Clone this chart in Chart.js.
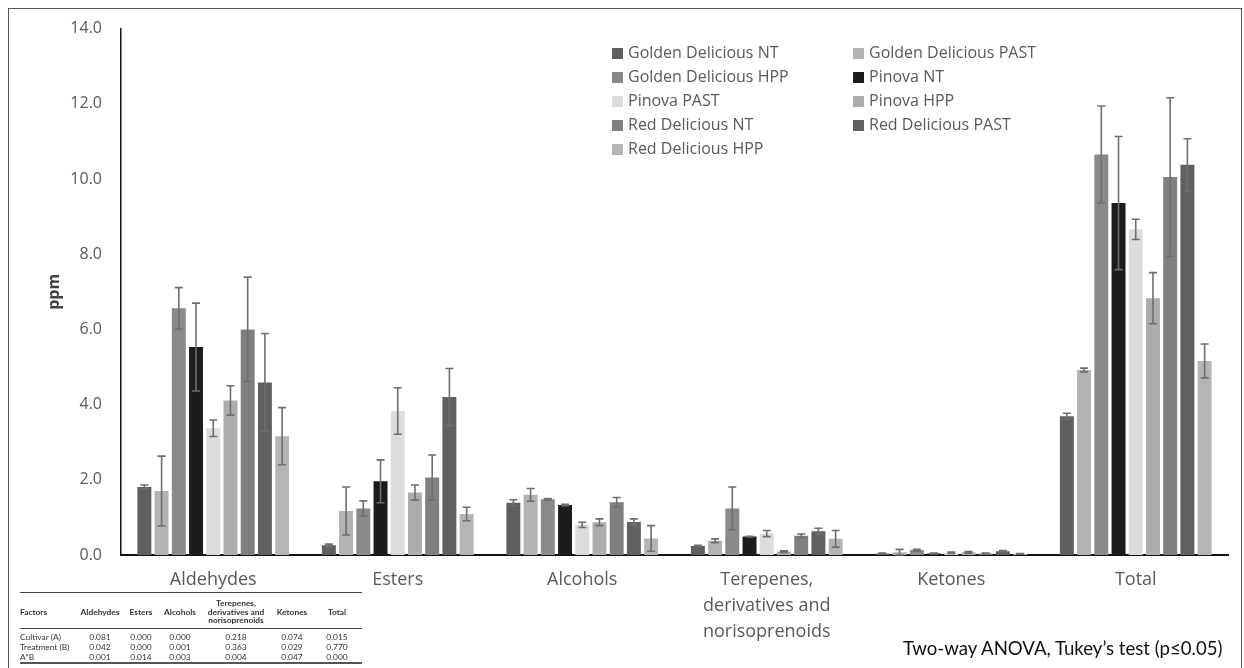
<!DOCTYPE html>
<html>
<head>
<meta charset="utf-8">
<script src="https://cdn.jsdelivr.net/npm/chart.js@4.4.1/dist/chart.umd.min.js"></script>
<style>
    html, body { margin: 0; padding: 0; background: #fff; }
    #wrap { position: relative; width: 1244px; height: 668px; overflow: hidden; }
    #frame { position: absolute; left: 8px; top: 8px; width: 1234px; height: 690px; border: 1.5px solid #555; box-sizing: border-box; }
    #chart { position: absolute; left: 0; top: 0; }
    .leg { position: absolute; font: 16px "Open Sans", sans-serif; color: #595959; white-space: nowrap; line-height: 20px; }
    .leg i { display: inline-block; width: 11px; height: 11px; margin-right: 5px; vertical-align: -1px; }
    #note { position: absolute; left: 903px; top: 637px; font: 18.6px Lato, sans-serif; color: #111; white-space: nowrap; }
    #anova { position: absolute; left: 20px; top: 592px; width: 342px; border-collapse: collapse; font: 8.4px Lato, sans-serif; color: #333; }
    #anova th { font-weight: bold; line-height: 8.7px; padding: 6px 0 3px; text-align: center; border-top: 1.2px solid #444; border-bottom: 1.2px solid #444; }
    #anova td { text-align: center; line-height: 10px; padding: 0; }
    #anova tr.first td { padding-top: 3px; }
    #anova th:first-child, #anova td:first-child { text-align: left; }
    #anova tr:last-child td { border-bottom: 2px solid #555; }
</style>
</head>
<body>
<div id="wrap">
    <canvas id="chart" width="1244" height="668"></canvas>
    <div id="frame"></div>
    <div id="legendBox"></div>
    <table id="anova"></table>
    <div id="note">Two-way ANOVA, Tukey’s test (p≤0.05)</div>
</div>
<script>
// categories on the x axis
const categories = ['Aldehydes', 'Esters', 'Alcohols', ['Terepenes,', 'derivatives and', 'norisoprenoids'], 'Ketones', 'Total'];

const seriesNames = [
    'Golden Delicious NT', 'Golden Delicious PAST', 'Golden Delicious HPP',
    'Pinova NT', 'Pinova PAST', 'Pinova HPP',
    'Red Delicious NT', 'Red Delicious PAST', 'Red Delicious HPP'
];
const seriesColors = ['#5f5f5f', '#b3b3b3', '#898989', '#1c1c1c', '#dcdcdc', '#adadad', '#808080', '#606060', '#b5b5b5'];

// mean values (ppm), one array per sample, in category order
const gdNT    = [1.81, 0.26, 1.39, 0.24, 0.04, 3.69];
const gdPAST  = [1.70, 1.17, 1.60, 0.38, 0.07, 4.92];
const gdHPP   = [6.56, 1.24, 1.48, 1.24, 0.13, 10.65];
const pinNT   = [5.53, 1.96, 1.33, 0.49, 0.04, 9.36];
const pinPAST = [3.37, 3.83, 0.80, 0.57, 0.06, 8.66];
const pinHPP  = [4.11, 1.66, 0.87, 0.09, 0.07, 6.83];
const rdNT    = [6.00, 2.06, 1.40, 0.51, 0.04, 10.05];
const rdPAST  = [4.59, 4.20, 0.88, 0.63, 0.10, 10.38];
const rdHPP   = [3.16, 1.09, 0.44, 0.43, 0.03, 5.16];

// standard deviations (error bars)
const gdNTErr    = [0.05, 0.03, 0.08, 0.02, 0.01, 0.08];
const gdPASTErr  = [0.93, 0.64, 0.17, 0.05, 0.08, 0.05];
const gdHPPErr   = [0.55, 0.20, 0.02, 0.57, 0.02, 1.29];
const pinNTErr   = [1.17, 0.57, 0.02, 0.01, 0.01, 1.77];
const pinPASTErr = [0.22, 0.62, 0.07, 0.08, 0.02, 0.27];
const pinHPPErr  = [0.39, 0.20, 0.09, 0.02, 0.02, 0.68];
const rdNTErr    = [1.39, 0.60, 0.13, 0.05, 0.01, 2.11];
const rdPASTErr  = [1.30, 0.76, 0.08, 0.08, 0.02, 0.69];
const rdHPPErr   = [0.76, 0.18, 0.34, 0.22, 0.01, 0.45];

const yTicks = [0, 2, 4, 6, 8, 10, 12, 14];

// two-way ANOVA p-values table
const tableHeaders = ['Factors', 'Aldehydes', 'Esters', 'Alcohols', 'Terepenes,<br>derivatives and<br>norisoprenoids', 'Ketones', 'Total'];
const tableFactors = ['Cultivar (A)', 'Treatment (B)', 'A*B'];
const pCultivar  = ['0.081', '0.000', '0.000', '0.218', '0.074', '0.015'];
const pTreatment = ['0.042', '0.000', '0.001', '0.363', '0.029', '0.770'];
const pInteract  = ['0.001', '0.014', '0.003', '0.004', '0.047', '0.000'];

const seriesValues = [gdNT, gdPAST, gdHPP, pinNT, pinPAST, pinHPP, rdNT, rdPAST, rdHPP];
const seriesErrors = [gdNTErr, gdPASTErr, gdHPPErr, pinNTErr, pinPASTErr, pinHPPErr, rdNTErr, rdPASTErr, rdHPPErr];

// draw error bars on top of every bar
const errorBars = {
    id: 'errorBars',
    afterDatasetsDraw(chart) {
        const ctx = chart.ctx;
        const y = chart.scales.y;
        ctx.save();
        ctx.strokeStyle = '#6e6e6e';
        ctx.lineWidth = 1.6;
        chart.data.datasets.forEach((ds, di) => {
            const meta = chart.getDatasetMeta(di);
            meta.data.forEach((bar, i) => {
                const v = ds.data[i];
                const e = ds.errors[i];
                const top = y.getPixelForValue(v + e);
                const bot = y.getPixelForValue(Math.max(v - e, 0));
                ctx.beginPath();
                ctx.moveTo(bar.x, top); ctx.lineTo(bar.x, bot);
                ctx.moveTo(bar.x - 4, top); ctx.lineTo(bar.x + 4, top);
                ctx.moveTo(bar.x - 4, bot); ctx.lineTo(bar.x + 4, bot);
                ctx.stroke();
            });
        });
        ctx.restore();
    }
};

const datasets = seriesNames.map((name, i) => ({
    label: name,
    data: seriesValues[i],
    errors: seriesErrors[i],
    backgroundColor: seriesColors[i],
    borderWidth: 0,
    barPercentage: 0.81,
    categoryPercentage: 0.84
}));

new Chart(document.getElementById('chart').getContext('2d'), {
    type: 'bar',
    data: { labels: categories, datasets: datasets },
    options: {
        responsive: false,
        animation: false,
        events: [],
        layout: { padding: { top: 27, right: 16, left: 0, bottom: 0 } },
        plugins: { legend: { display: false }, tooltip: { enabled: false } },
        scales: {
            x: {
                grid: { display: false },
                border: { display: true, color: '#111', width: 2 },
                ticks: {
                    color: '#595959',
                    font: { family: 'Open Sans', size: 18, lineHeight: 1.45 },
                    padding: 4,
                    maxRotation: 0,
                    autoSkip: false
                },
                afterFit: scale => { scale.height = 113; }
            },
            y: {
                min: 0,
                max: 14,
                afterBuildTicks: scale => { scale.ticks = yTicks.map(v => ({ value: v })); },
                grid: { display: false, drawTicks: false },
                border: { display: true, color: '#111', width: 1.5 },
                ticks: {
                    color: '#595959',
                    font: { family: 'Open Sans', size: 16 },
                    padding: 19,
                    callback: v => v.toFixed(1)
                },
                title: {
                    display: true,
                    text: 'ppm',
                    color: '#404040',
                    font: { family: 'Open Sans', size: 16, weight: 'bold' },
                    padding: { top: 45, bottom: 0 }
                },
                afterFit: scale => { scale.width = 121; }
            }
        }
    },
    plugins: [errorBars]
});

// legend, two columns, row by row
const legendBox = document.getElementById('legendBox');
seriesNames.forEach((name, i) => {
    const el = document.createElement('div');
    el.className = 'leg';
    el.style.left = (i % 2 === 0 ? 612 : 853) + 'px';
    el.style.top = (42 + Math.floor(i / 2) * 24) + 'px';
    el.innerHTML = '<i style="background:' + seriesColors[i] + '"></i>' + name;
    legendBox.appendChild(el);
});

// ANOVA table
const table = document.getElementById('anova');
const colWidths = [58, 44, 38, 40, 72, 40, 50];
let html = '<colgroup>' + colWidths.map(w => '<col style="width:' + w + 'px">').join('') + '</colgroup>';
html += '<tr>' + tableHeaders.map(h => '<th>' + h + '</th>').join('') + '</tr>';
[pCultivar, pTreatment, pInteract].forEach((row, r) => {
    html += '<tr' + (r === 0 ? ' class="first"' : '') + '><td>' + tableFactors[r] + '</td>' + row.map(p => '<td>' + p + '</td>').join('') + '</tr>';
});
table.innerHTML = html;
</script>
</body>
</html>
